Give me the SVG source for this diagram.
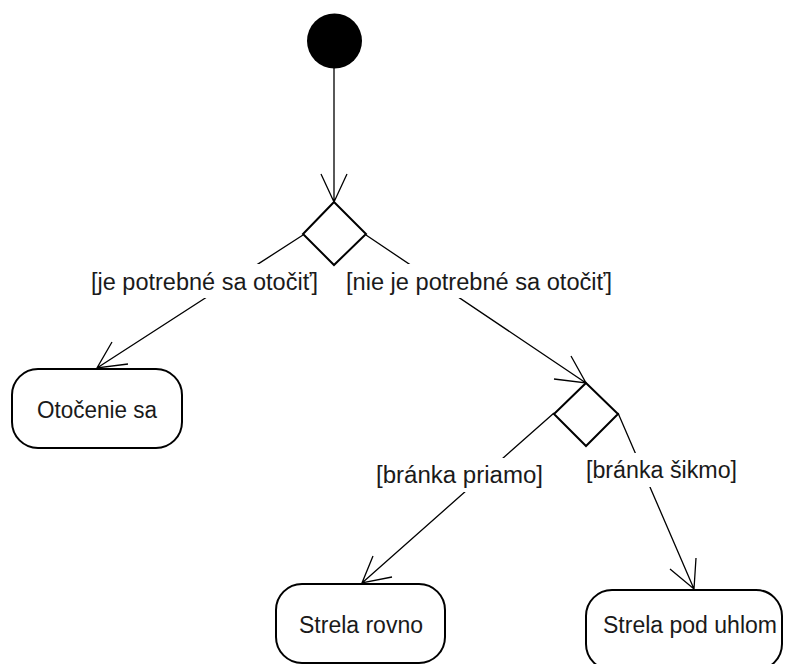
<svg xmlns="http://www.w3.org/2000/svg" width="787" height="664" viewBox="0 0 787 664">
<style>
.box{fill:#fff;stroke:#000;stroke-width:2}
.dia{fill:#fff;stroke:#000;stroke-width:2}
.edge{fill:none;stroke:#000;stroke-width:1.3}
.txt{font-family:"Liberation Sans",Arial,sans-serif;font-size:23px;fill:#1a1a1a}
.lblbg{fill:#fff}
</style>
<rect width="787" height="664" fill="#fff"/>
<g id="connectors">
<path class="edge" d="M334,68 L334,202 M321,174 L334,202 L347,174"/>
<path class="edge" d="M303,235 L97,368 M112,342 L97,368 L128,364"/>
<path class="edge" d="M366,235 L586,383 M554,379 L586,383 L571,356"/>
<path class="edge" d="M554,413 L362,583 M373,556 L362,583 L392,577"/>
<path class="edge" d="M618,413 L694,589 M670,569 L694,589 L696,558"/>
</g>
<g id="labels">
<rect class="lblbg" x="89" y="264" width="232" height="34"/>
<text class="txt" x="91" y="290" textLength="227" lengthAdjust="spacingAndGlyphs">[je potrebné sa otočiť]</text>
<rect class="lblbg" x="344" y="264" width="270" height="34"/>
<text class="txt" x="346" y="290" textLength="266" lengthAdjust="spacingAndGlyphs">[nie je potrebné sa otočiť]</text>
<rect class="lblbg" x="374" y="458" width="172" height="34"/>
<text class="txt" x="376" y="483" textLength="167" lengthAdjust="spacingAndGlyphs">[bránka priamo]</text>
<rect class="lblbg" x="584" y="453" width="156" height="34"/>
<text class="txt" x="586" y="478" textLength="151" lengthAdjust="spacingAndGlyphs">[bránka šikmo]</text>
</g>
<g id="start"><circle cx="334.5" cy="41" r="27.5" fill="#000"/></g>
<g id="decision1"><path class="dia" d="M334,202 L366,234 L334,265 L303,234 Z"/></g>
<g id="decision2"><path class="dia" d="M586,383 L618,414 L586,446 L554,414 Z"/></g>
<g id="otocenie">
<rect class="box" x="12" y="369" width="170" height="79" rx="26" ry="26"/>
<text class="txt" x="97" y="418" text-anchor="middle" textLength="120" lengthAdjust="spacingAndGlyphs">Otočenie sa</text>
</g>
<g id="strela-rovno">
<rect class="box" x="276" y="584" width="169" height="79" rx="26" ry="26"/>
<text class="txt" x="361" y="633" text-anchor="middle" textLength="124" lengthAdjust="spacingAndGlyphs">Strela rovno</text>
</g>
<g id="strela-pod-uhlom">
<rect class="box" x="586" y="590" width="196" height="80" rx="26" ry="26"/>
<text class="txt" x="690" y="633" text-anchor="middle" textLength="174" lengthAdjust="spacingAndGlyphs">Strela pod uhlom</text>
</g>
</svg>
